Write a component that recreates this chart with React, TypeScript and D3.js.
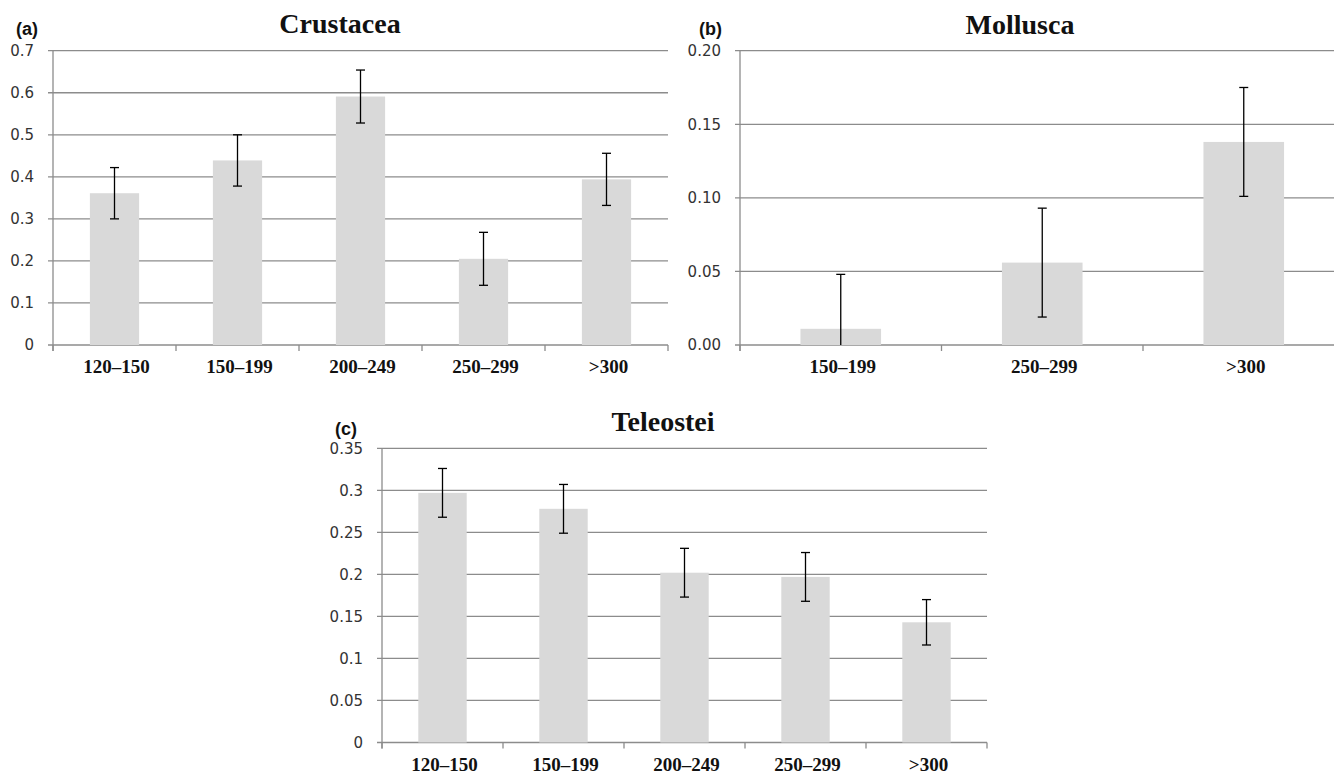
import React from 'react';
import * as d3 from 'd3';

// ---- Data ----
const crustCategories = ['120–150', '150–199', '200–249', '250–299', '>300'];
const crustMeans = [0.361, 0.439, 0.591, 0.205, 0.394];
const crustErrors = [0.061, 0.061, 0.063, 0.063, 0.062];
const crustTicks = [0, 0.1, 0.2, 0.3, 0.4, 0.5, 0.6, 0.7];
const crustTickLabels = ['0', '0.1', '0.2', '0.3', '0.4', '0.5', '0.6', '0.7'];

const molluscCategories = ['150–199', '250–299', '>300'];
const molluscMeans = [0.011, 0.056, 0.138];
const molluscErrors = [0.037, 0.037, 0.037];
const molluscTicks = [0, 0.05, 0.1, 0.15, 0.2];
const molluscTickLabels = ['0.00', '0.05', '0.10', '0.15', '0.20'];

const teleoCategories = ['120–150', '150–199', '200–249', '250–299', '>300'];
const teleoMeans = [0.297, 0.278, 0.202, 0.197, 0.143];
const teleoErrors = [0.029, 0.029, 0.029, 0.029, 0.027];
const teleoTicks = [0, 0.05, 0.1, 0.15, 0.2, 0.25, 0.3, 0.35];
const teleoTickLabels = ['0', '0.05', '0.1', '0.15', '0.2', '0.25', '0.3', '0.35'];

const GRID = '#8c8c8c';
const BAR = '#d9d9d9';

type PanelProps = {
  tag: string;
  title: string;
  categories: string[];
  means: number[];
  errors: number[];
  ticks: number[];
  tickLabels: string[];
  x0: number;
  x1: number;
  yBottom: number;
  yTop: number;
  tagX: number;
  tagY: number;
  titleX: number;
  titleY: number;
};

function Panel(p: PanelProps) {
  const yMax = p.ticks[p.ticks.length - 1];
  const y = d3.scaleLinear().domain([0, yMax]).range([p.yBottom, p.yTop]);
  const x = d3
    .scaleBand<string>()
    .domain(p.categories)
    .range([p.x0, p.x1])
    .paddingInner(0.6)
    .paddingOuter(0.3);
  const step = (p.x1 - p.x0) / p.categories.length;
  const boundaries = d3.range(p.categories.length + 1).map((i) => p.x0 + i * step);
  const cap = 4.5;
  return (
    <g>
      <text x={p.tagX} y={p.tagY} fontFamily="'Liberation Sans', Arial, sans-serif" fontWeight="bold" fontSize={18} fill="#111">
        {p.tag}
      </text>
      <text x={p.titleX} y={p.titleY} textAnchor="middle" fontFamily="'Liberation Serif', 'Times New Roman', serif" fontWeight="bold" fontSize={28} fill="#111">
        {p.title}
      </text>
      {p.ticks.map((t, i) => (
        <g key={'g' + i}>
          <line x1={p.x0 - 5} x2={p.x1} y1={y(t)} y2={y(t)} stroke={GRID} strokeWidth={1.3} />
          <text x={p.x0 - 19} y={y(t)} dy="0.36em" textAnchor="end" fontFamily="'DejaVu Sans', sans-serif" fontSize={15} fill="#333">
            {p.tickLabels[i]}
          </text>
        </g>
      ))}
      <line x1={p.x0} x2={p.x0} y1={p.yTop} y2={p.yBottom + 6} stroke={GRID} strokeWidth={1.3} />
      {boundaries.map((bx, i) => (
        <line key={'b' + i} x1={bx} x2={bx} y1={p.yBottom} y2={p.yBottom + 6} stroke={GRID} strokeWidth={1.3} />
      ))}
      {p.categories.map((c, i) => {
        const bx = x(c)!;
        const bw = x.bandwidth();
        const cx = bx + bw / 2;
        const v = p.means[i];
        const e = p.errors[i];
        const lo = Math.max(0, v - e);
        const hi = v + e;
        return (
          <g key={'c' + i}>
            <rect x={bx} y={y(v)} width={bw} height={p.yBottom - y(v)} fill={BAR} />
            <line x1={cx} x2={cx} y1={y(hi)} y2={y(lo)} stroke="#000" strokeWidth={1.3} />
            <line x1={cx - cap} x2={cx + cap} y1={y(hi)} y2={y(hi)} stroke="#000" strokeWidth={1.3} />
            {v - e > 0 && (
              <line x1={cx - cap} x2={cx + cap} y1={y(lo)} y2={y(lo)} stroke="#000" strokeWidth={1.3} />
            )}
            <text x={cx + 2} y={p.yBottom + 28} textAnchor="middle" fontFamily="'Liberation Serif', 'Times New Roman', serif" fontWeight="bold" fontSize={19} fill="#111">
              {c}
            </text>
          </g>
        );
      })}
    </g>
  );
}

export default function App() {
  return (
    <svg
      width={1334}
      height={773}
      style={{ position: 'absolute', left: 0, top: 0, background: '#fff' }}
    >
      <rect x={0} y={0} width={1334} height={773} fill="#fff" />
      <Panel
        tag="(a)"
        title="Crustacea"
        categories={crustCategories}
        means={crustMeans}
        errors={crustErrors}
        ticks={crustTicks}
        tickLabels={crustTickLabels}
        x0={53}
        x1={668}
        yBottom={345}
        yTop={50.7}
        tagX={16}
        tagY={35}
        titleX={340}
        titleY={33}
      />
      <Panel
        tag="(b)"
        title="Mollusca"
        categories={molluscCategories}
        means={molluscMeans}
        errors={molluscErrors}
        ticks={molluscTicks}
        tickLabels={molluscTickLabels}
        x0={740}
        x1={1344.5}
        yBottom={345}
        yTop={50.7}
        tagX={699}
        tagY={35}
        titleX={1020}
        titleY={34}
      />
      <Panel
        tag="(c)"
        title="Teleostei"
        categories={teleoCategories}
        means={teleoMeans}
        errors={teleoErrors}
        ticks={teleoTicks}
        tickLabels={teleoTickLabels}
        x0={382}
        x1={987}
        yBottom={742.5}
        yTop={448.3}
        tagX={335}
        tagY={435}
        titleX={663}
        titleY={431}
      />
    </svg>
  );
}
